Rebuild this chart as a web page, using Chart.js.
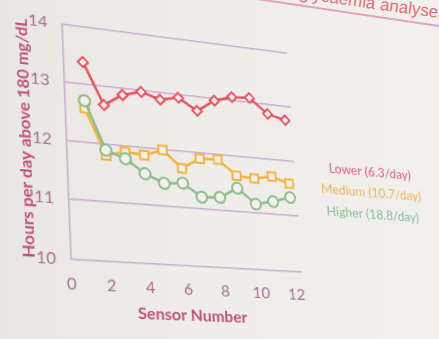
<!DOCTYPE html>
<html lang="en">
<head>
    <meta charset="UTF-8">
    <title>Hyperglycaemia analyses</title>
    <script src="https://cdn.jsdelivr.net/npm/chart.js"></script>
    <style>
        body {
            margin: 0;
            width: 439px;
            height: 339px;
            overflow: hidden;
            position: relative;
            background: linear-gradient(90deg, #e8e7e3 0%, #eeede9 45%, #f1f0ec 100%);
            font-family: Lato, 'Liberation Sans', sans-serif;
        }

        /* slide heading, cut off by the frame */
        .slide-title {
            position: absolute;
            left: -200px;
            top: 5px;
            width: 646px;
            text-align: right;
            font: 17px 'Liberation Sans', sans-serif;
            line-height: 17px;
            color: #e2707f;
            transform-origin: 100% 13px;
            transform: rotate(8deg);
            white-space: nowrap;
        }

        .slide-rule {
            position: absolute;
            left: 250px;
            top: -3px;
            width: 260px;
            height: 1.5px;
            background: #e8a3b2;
            transform-origin: 0 0;
            transform: rotate(8.4deg);
        }

        #chart {
            position: absolute;
            left: 0;
            top: 0;
            transform-origin: 0 0;
        }
    </style>
</head>
<body>
    <div class="slide-title">Hyperglycaemia analyses</div>
    <div class="slide-rule"></div>
    <canvas id="chart" width="560" height="440"></canvas>

    <script>
        // sensor index on the x axis
        const sensors = [1, 2, 3, 4, 5, 6, 7, 8, 9, 10, 11, 12];

        // hours per day above 180 mg/dL, by scanning frequency group
        const lowerHours  = [13.38, 12.67, 12.88, 12.97, 12.87, 12.94, 12.74, 12.96, 13.06, 13.08, 12.82, 12.74];
        const mediumHours = [12.58, 11.80, 11.89, 11.86, 11.98, 11.69, 11.89, 11.90, 11.64, 11.62, 11.68, 11.58];
        const higherHours = [12.71, 11.89, 11.77, 11.54, 11.40, 11.43, 11.21, 11.23, 11.42, 11.16, 11.23, 11.33];

        const seriesNames = ['Lower (6.3/day)', 'Medium (10.7/day)', 'Higher (18.8/day)'];
        const xTicks = [0, 2, 4, 6, 8, 10, 12];
        const yTicks = [10, 11, 12, 13, 14];

        const lineColors = ['#e8505e', '#f2b33d', '#8cbc8a'];
        const nameColors = ['#e0607a', '#f0b55e', '#86bf98'];
        const gridColor = '#cbaccf';
        const tickColor = '#a8708f';
        const titleColor = '#be527c';
        const markerFill = '#f2f1ed';

        const toPoints = (values) => sensors.map((s, i) => ({ x: s, y: values[i] }));

        // series names written to the right of the plot, one per line
        const seriesNamesPlugin = {
            id: 'seriesNames',
            afterDraw(chart) {
                const { ctx, chartArea } = chart;
                ctx.save();
                ctx.font = '14px "Liberation Sans Narrow", Lato, sans-serif';
                ctx.textAlign = 'center';
                ctx.textBaseline = 'middle';
                chart.data.datasets.forEach((ds, i) => {
                    ctx.fillStyle = nameColors[i];
                    ctx.fillText(ds.label, chartArea.right + 86, chartArea.top + 117 + i * 22.5);
                });
                ctx.restore();
            }
        };

        const chart = new Chart(document.getElementById('chart'), {
            type: 'line',
            data: {
                datasets: [
                    {
                        label: seriesNames[0],
                        data: toPoints(lowerHours),
                        borderColor: lineColors[0],
                        pointStyle: 'rectRot',
                        pointRadius: 5,
                        order: 1
                    },
                    {
                        label: seriesNames[1],
                        data: toPoints(mediumHours),
                        borderColor: lineColors[1],
                        pointStyle: 'rect',
                        pointRadius: 6,
                        order: 2
                    },
                    {
                        label: seriesNames[2],
                        data: toPoints(higherHours),
                        borderColor: lineColors[2],
                        pointStyle: 'circle',
                        pointRadius: 5.5,
                        order: 0
                    }
                ].map(ds => Object.assign(ds, {
                    backgroundColor: markerFill,
                    pointBackgroundColor: markerFill,
                    pointBorderColor: ds.borderColor,
                    pointBorderWidth: 2,
                    borderWidth: 2.5,
                    tension: 0,
                    fill: false
                }))
            },
            options: {
                responsive: false,
                animation: false,
                layout: {
                    padding: { top: 80, left: 9, right: 267, bottom: 76 }
                },
                plugins: {
                    legend: { display: false },
                    tooltip: { enabled: false }
                },
                scales: {
                    x: {
                        type: 'linear',
                        min: 0,
                        max: 12.4,
                        afterBuildTicks: (axis) => { axis.ticks = xTicks.map(v => ({ value: v })); },
                        grid: { display: false, drawTicks: false },
                        border: { display: false },
                        ticks: {
                            color: tickColor,
                            padding: 15,
                            font: { family: 'Lato', size: 16, lineHeight: 1 }
                        },
                        title: {
                            display: true,
                            text: 'Sensor Number',
                            color: titleColor,
                            padding: { top: -8, bottom: 0 },
                            font: { family: 'Lato', size: 16, weight: 'bold' }
                        }
                    },
                    y: {
                        min: 10,
                        max: 14,
                        afterBuildTicks: (axis) => { axis.ticks = yTicks.map(v => ({ value: v })); },
                        grid: { color: gridColor, lineWidth: 1.5, drawTicks: false },
                        border: { display: true, color: gridColor, width: 1.5 },
                        ticks: {
                            color: tickColor,
                            padding: 14,
                            font: { family: 'Lato', size: 16 }
                        },
                        title: {
                            display: true,
                            text: 'Hours per day above 180 mg/dL',
                            color: titleColor,
                            padding: { top: 0, bottom: -17 },
                            font: { family: 'Lato', size: 16, weight: 'bold' }
                        }
                    }
                }
            },
            plugins: [seriesNamesPlugin]
        });

        // solve the 3x3 projective map taking four src points onto four dst points
        function homography(src, dst) {
            const A = [], b = [];
            for (let i = 0; i < 4; i++) {
                const [x, y] = src[i], [u, v] = dst[i];
                A.push([x, y, 1, 0, 0, 0, -u * x, -u * y]); b.push(u);
                A.push([0, 0, 0, x, y, 1, -v * x, -v * y]); b.push(v);
            }
            for (let c = 0; c < 8; c++) {
                let p = c;
                for (let r = c + 1; r < 8; r++) if (Math.abs(A[r][c]) > Math.abs(A[p][c])) p = r;
                [A[c], A[p]] = [A[p], A[c]];
                [b[c], b[p]] = [b[p], b[c]];
                for (let r = 0; r < 8; r++) {
                    if (r === c) continue;
                    const f = A[r][c] / A[c][c];
                    for (let k = c; k < 8; k++) A[r][k] -= f * A[c][k];
                    b[r] -= f * b[c];
                }
            }
            return b.map((val, i) => val / A[i][i]);
        }

        // tilt the whole chart like a slide seen from the audience
        const xs = chart.scales.x, ys = chart.scales.y;
        const corners = [
            [xs.getPixelForValue(0), ys.getPixelForValue(14)],
            [xs.getPixelForValue(0), ys.getPixelForValue(10)],
            [xs.getPixelForValue(12.4), ys.getPixelForValue(14)],
            [xs.getPixelForValue(12.4), ys.getPixelForValue(10)]
        ];
        const screen = [[62, 24.3], [71, 259.3], [287.3, 53.4], [302, 272]];
        const h = homography(corners, screen);
        document.getElementById('chart').style.transform =
            `matrix3d(${h[0]},${h[3]},0,${h[6]},${h[1]},${h[4]},0,${h[7]},0,0,1,0,${h[2]},${h[5]},0,1)`;
    </script>
</body>
</html>
